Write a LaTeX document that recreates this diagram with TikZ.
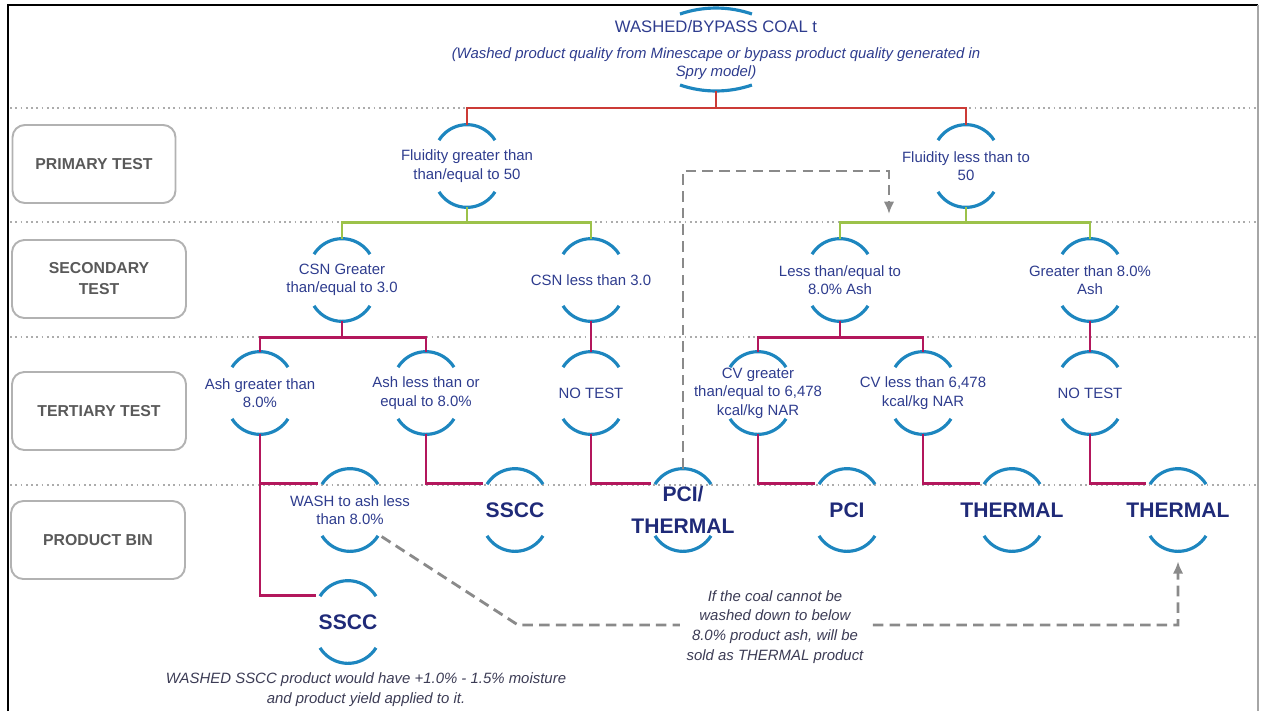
\documentclass[tikz,border=0pt]{standalone}
\usepackage{fontspec}
\setmainfont{Liberation Sans}
\usetikzlibrary{arrows.meta,positioning,calc}
\definecolor{txtblue}{HTML}{2E3C8E}
\definecolor{binblue}{HTML}{1F2A78}
\definecolor{arcblue}{HTML}{1D86BF}
\definecolor{lnred}{HTML}{CC3B36}
\definecolor{lngreen}{HTML}{9CC24A}
\definecolor{lnmag}{HTML}{B3175C}
\definecolor{dashgray}{HTML}{8A8A8A}
\definecolor{notegray}{HTML}{3C3C55}

\begin{document}
\begin{tikzpicture}[
  x=0.02cm, y=0.02cm,
  font=\fontsize{8.5}{10.5}\selectfont,
  cond/.style={circle, minimum size=1.64cm, inner sep=0pt, label={[condtxt]center:{#1}}},
  condtxt/.style={align=center, text=txtblue, inner sep=0pt},
  bin/.style={circle, minimum size=1.64cm, inner sep=0pt, label={[bintxt]center:{#1}}},
  bintxt/.style={align=center, text=binblue, inner sep=0pt, font=\fontsize{12}{14}\selectfont\bfseries},
  tier/.style={draw=gray!60, rounded corners=7pt, line width=1.1pt, minimum width=3.48cm, minimum height=1.56cm, align=center, text=black!65, font=\fontsize{9}{12}\selectfont\bfseries},
  arcln/.style={draw=arcblue, line width=1.8pt},
  sep/.style={draw=gray!65, line width=1pt, dotted},
  redln/.style={draw=lnred, line width=1.6pt},
  grnln/.style={draw=lngreen, line width=1.6pt},
  magln/.style={draw=lnmag, line width=1.6pt},
  dasharr/.style={draw=dashgray, line width=1.6pt, dash pattern=on 6pt off 3.5pt, -{Latex[length=7pt,width=6pt]}},
  note/.style={align=center, text=notegray, font=\fontsize{8.5}{11.3}\selectfont\itshape}
]
  \useasboundingbox (0,0) rectangle (1263,-711);

  % frame and row separators
  \draw[line width=1.2pt] (8,-711) -- (8,-5) -- (1258,-5);
  \draw[line width=1pt, gray!70] (1258,-5) -- (1258,-711);
  \foreach \y in {108,222,337,485}
    \draw[sep] (10,-\y) -- (1256,-\y);

  % row labels
  \node[tier, minimum width=3.26cm] (prim) at (94,-164) {PRIMARY TEST};
  \node[tier] (sec) at (99,-279) {SECONDARY\\TEST};
  \node[tier] (ter) at (99,-411) {TERTIARY TEST};
  \node[tier] (bin) at (98,-540) {PRODUCT BIN};

  % source
  \node[align=center, text=txtblue] (coal) at (716,-50)
    {{\fontsize{9.5}{11}\selectfont WASHED/BYPASS COAL t}\\[4pt]
     {\itshape (Washed product quality from Minescape or bypass product quality generated in}\\
     {\itshape Spry model)}};
  \draw[arcln] (680,-14) arc[start angle=108.9, end angle=71.1, radius=111];
  \draw[arcln] (680,-85) arc[start angle=-108.9, end angle=-71.1, radius=111];
  \coordinate (coalb) at (716,-91);
  \coordinate (rsplit) at (716,-108);

  % primary
  \node[cond={Fluidity greater than\\than/equal to 50}] (F1) at (467,-166) {};
  \node[cond={Fluidity less than to\\50}] (F2) at (966,-166) {};

  % secondary
  \node[cond={CSN Greater\\than/equal to 3.0}] (S1) at (342,-280) {};
  \node[cond={CSN less than 3.0}] (S2) at (591,-280) {};
  \node[cond={Less than/equal to\\8.0\% Ash}] (S3) at (840,-280) {};
  \node[cond={Greater than 8.0\%\\Ash}] (S4) at (1090,-280) {};

  % tertiary
  \node[cond={Ash greater than\\8.0\%}] (T1) at (260,-393) {};
  \node[cond={Ash less than or\\equal to 8.0\%}] (T2) at (426,-393) {};
  \node[cond={NO TEST}] (T3) at (591,-393) {};
  \node[cond={CV greater\\than/equal to 6,478\\kcal/kg NAR}] (T4) at (758,-393) {};
  \node[cond={CV less than 6,478\\kcal/kg NAR}] (T5) at (923,-393) {};
  \node[cond={NO TEST}] (T6) at (1090,-393) {};

  % product bins
  \node[cond={WASH to ash less\\than 8.0\%}] (W) at (350,-510) {};
  \node[bin={SSCC}] (sscc1) at (515,-510) {};
  \node[bin={PCI/\\[4pt]THERMAL}] (pcith) at (683,-510) {};
  \node[bin={PCI}] (pci) at (847,-510) {};
  \node[bin={THERMAL}] (therm1) at (1012,-510) {};
  \node[bin={THERMAL}] (therm2) at (1178,-510) {};
  \node[bin={SSCC}] (sscc2) at (348,-622) {};

  \foreach \n in {F1,F2,S1,S2,S3,S4,T1,T2,T3,T4,T5,T6,W,sscc1,pcith,pci,therm1,therm2,sscc2} {
    \draw[arcln] ([shift={(0,-33)}]\n.north) ++(148:33) arc[start angle=148, end angle=32, radius=33];
    \draw[arcln] ([shift={(0,33)}]\n.south) ++(-148:33) arc[start angle=-148, end angle=-32, radius=33];
  }

  % tree lines
  \draw[redln] (coalb) -- (rsplit);
  \draw[redln] (F1.north) |- (rsplit) -| (F2.north);

  \draw[grnln] (F1.south) -- ++(0,-15) coordinate (g1);
  \draw[grnln] (S1.north) |- (g1) -| (S2.north);
  \draw[grnln] (F2.south) -- ++(0,-15) coordinate (g2);
  \draw[grnln] (S3.north) |- (g2) -| (S4.north);

  \draw[magln] (S1.south) -- ++(0,-16) coordinate (m1);
  \draw[magln] (T1.north) |- (m1) -| (T2.north);
  \draw[magln] (S2.south) -- (T3.north);
  \draw[magln] (S3.south) -- ++(0,-16) coordinate (m2);
  \draw[magln] (T4.north) |- (m2) -| (T5.north);
  \draw[magln] (S4.south) -- (T6.north);

  \draw[magln] (T1.south) |- (W.140);
  \draw[magln] (T1.south) |- (sscc2.140);
  \draw[magln] (T2.south) |- (sscc1.140);
  \draw[magln] (T3.south) |- (pcith.140);
  \draw[magln] (T4.south) |- (pci.140);
  \draw[magln] (T5.south) |- (therm1.140);
  \draw[magln] (T6.south) |- (therm2.140);

  % feedback paths
  \coordinate (fbk) at (889,-171);
  \coordinate (fbt) at (889,-214);
  \draw[dasharr] (pcith.north) |- (fbk) -- (fbt);

  \coordinate (wk) at (518,-625);
  \draw[dasharr, shorten >=0.2cm] (W.-40) -- (wk) -| (therm2.south);

  \node[note, fill=white, inner sep=4pt] (nt) at (775,-627)
    {If the coal cannot be\\washed down to below\\8.0\% product ash, will be\\sold as THERMAL product};
  \node[note] (wnote) at (366,-690)
    {WASHED SSCC product would have +1.0\% - 1.5\% moisture\\and product yield applied to it.};
\end{tikzpicture}
\end{document}
